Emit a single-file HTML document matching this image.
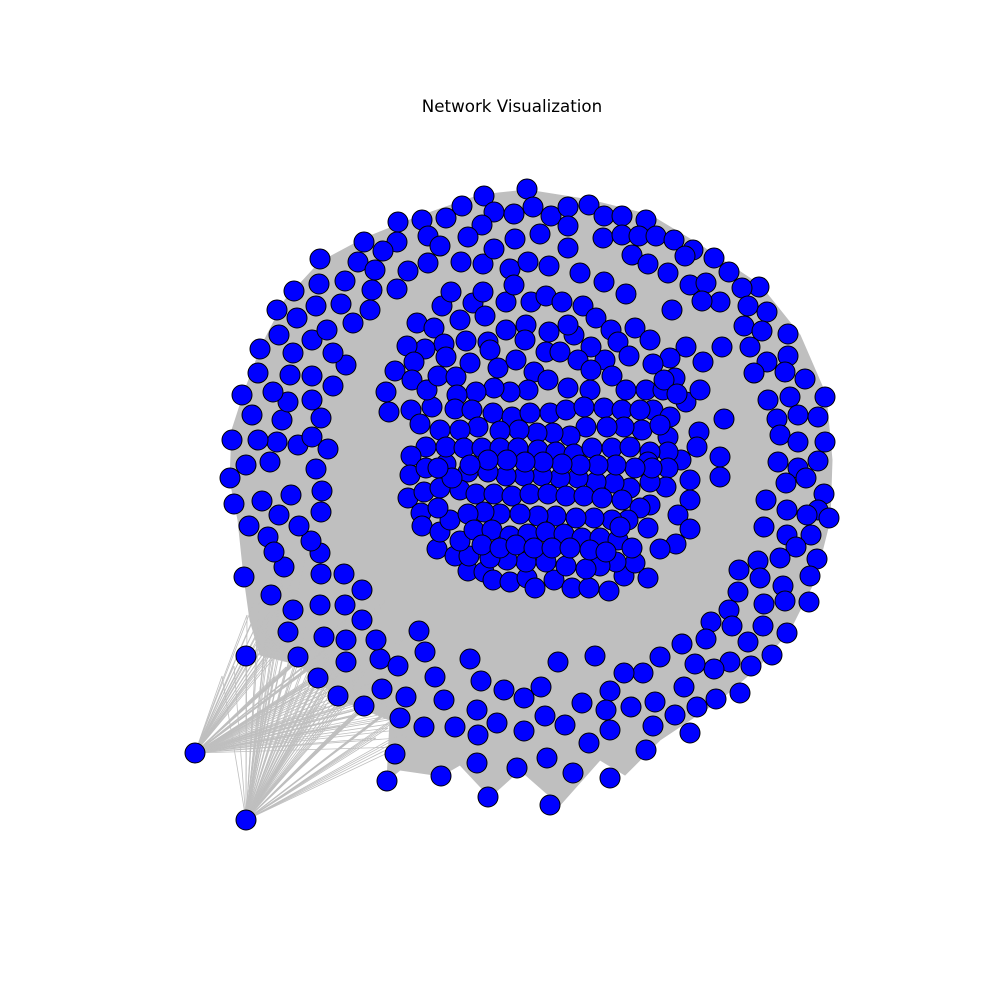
<!DOCTYPE html>
<html><head><meta charset="utf-8"><style>
html,body{margin:0;padding:0;background:#fff;width:1000px;height:1000px;overflow:hidden}
svg{display:block}
</style></head><body>
<svg id="chart" width="1000" height="1000" viewBox="0 0 1000 1000">
<rect width="1000" height="1000" fill="#fff"/>
<text x="512" y="112" text-anchor="middle" font-family="DejaVu Sans, Liberation Sans, sans-serif" font-size="16.7">Network Visualization</text>
<g id="edges"></g>
<g id="nodes"></g>
</svg>
<script>
const edgeHull = [[527,190],[590,200],[650,215],[700,245],[760,285],[800,335],[826,395],[832,460],[830,520],[815,580],[790,630],[760,665],[720,700],[660,740],[625,775],[600,760],[560,805],[520,770],[490,797],[460,765],[441,776],[400,770],[387,781],[390,720],[340,700],[300,665],[260,655],[250,620],[244,577],[238,520],[230,480],[232,430],[245,390],[262,345],[285,300],[320,262],[365,238],[420,216],[480,195]];
const hubs = [[195,753],[246,820]];
const hubTargets = [[246,656],[298,657],[318,678],[338,696],[364,706],[288,632],[324,637],[346,662],[380,659],[382,689],[400,718],[424,727],[406,697],[293,610],[271,595],[346,640],[284,567],[362,620]];
const nodeX = [527,484,462,446,422,398,494,514,533,551,568,589,604,622,646,568,540,515,482,468,428,440,397,383,364,358,375,408,428,461,483,494,510,528,549,568,580,603,622,639,656,674,693,714,729,759,632,648,668,685,690,706,720,702,672,742,748,767,744,762,788,750,767,788,754,785,805,825,790,768,777,798,818,780,798,825,818,798,778,786,806,824,818,829,807,787,766,764,787,811,796,817,780,758,760,739,783,810,785,809,764,738,729,711,732,763,787,748,706,682,772,751,730,714,695,684,660,643,624,610,655,631,606,697,716,740,675,653,610,690,646,589,610,573,547,550,517,488,477,441,387,395,424,400,406,382,364,338,318,298,246,288,293,271,284,244,324,346,346,380,376,398,419,425,435,444,455,470,481,477,478,497,504,524,524,541,545,565,558,582,595,362,362,344,320,345,321,320,311,299,268,274,249,234,262,291,279,321,322,316,230,246,270,277,258,232,252,242,282,298,312,328,321,312,288,273,258,260,279,293,290,312,333,312,327,346,333,341,353,370,372,345,319,316,297,277,294,320,397,
417,434,442,460,451,473,485,483,506,514,531,546,562,583,596,604,626,611,635,650,618,629,605,591,574,568,549,526,506,525,488,466,444,425,407,414,395,412,386,389,411,432,427,438,456,446,470,490,498,516,534,546,560,578,591,612,590,568,548,528,510,494,476,457,455,472,493,512,530,550,566,584,604,622,626,646,663,675,653,670,686,700,703,686,670,653,664,677,722,724,720,720,699,697,681,668,668,650,642,624,607,586,570,553,537,519,500,478,460,440,420,426,411,410,408,421,422,437,455,468,484,493,510,527,535,554,572,589,609,624,648,635,616,600,586,566,546,526,507,490,469,460,440,450,438,424,440,426,446,446,464,482,500,518,538,556,574,592,612,630,648,668,690,690,678,690,676,660,648,650,666,650,630,614,596,578,560,542,524,506,488,468,460,476,494,512,530,548,566,584,602,622,640,628,612,594,576,556,538,520,500,484,468,474,492,510,528,546,564,582,600,618,632,482,500,516,534,552,570,590,606,620,652,635,616,598,580,562,543,525,507,488,470,452,438,660,640,195,246];
const nodeY = [189,196,206,218,220,222,212,214,207,216,207,205,216,216,220,226,234,239,225,237,236,246,242,251,242,262,270,271,263,262,264,249,269,262,266,248,273,238,235,236,236,240,250,258,272,287,255,264,273,256,285,283,302,301,310,288,306,312,326,331,334,347,362,356,373,372,379,397,397,400,419,415,417,435,442,442,461,468,462,483,478,494,510,518,515,510,500,527,535,535,547,559,558,561,578,570,586,576,601,602,604,592,610,622,626,626,633,642,639,644,655,666,662,669,664,687,657,673,673,691,702,707,710,707,699,693,715,726,730,733,750,743,778,773,758,805,768,797,763,776,781,754,727,718,697,689,706,696,678,657,656,632,610,595,567,577,637,640,662,659,640,666,631,652,677,700,727,659,681,710,735,723,690,698,731,687,716,725,662,703,656,620,590,574,605,605,574,553,541,526,537,552,526,504,501,495,515,512,491,469,478,465,462,442,440,440,415,395,420,445,437,449,418,400,402,392,373,349,335,353,375,376,386,340,330,365,353,304,323,310,290,281,284,306,318,310,291,259,289,
323,328,306,320,292,303,316,292,302,285,302,296,302,306,318,282,294,330,328,340,342,356,360,347,335,325,332,325,330,340,342,341,344,349,346,362,371,380,392,412,410,407,390,376,377,357,363,350,368,360,372,352,352,360,370,376,390,388,380,390,392,388,392,395,409,410,413,417,413,413,410,407,408,410,390,390,390,378,410,417,402,390,362,347,358,364,380,394,347,419,457,477,432,447,460,437,452,452,430,427,427,427,436,433,433,430,431,427,430,430,424,447,456,475,498,513,526,549,556,571,572,580,582,578,588,580,588,588,591,576,578,563,562,566,569,566,562,562,560,558,556,541,532,520,508,492,488,468,464,447,448,448,448,448,450,452,454,448,448,447,462,468,480,500,515,529,544,549,528,505,487,482,488,483,482,478,478,476,476,476,472,472,490,494,494,496,494,494,496,496,498,500,508,520,520,518,518,516,516,514,514,512,514,530,530,536,534,532,534,538,538,540,548,545,548,545,548,548,548,550,552,527,468,468,465,465,465,464,462,462,460,460,465,478,468,425,410,753,820];

const NS = 'http://www.w3.org/2000/svg';
const eg = document.getElementById('edges');
const ng = document.getElementById('nodes');

const hull = document.createElementNS(NS, 'polygon');


hull.setAttribute('points', edgeHull.map(p => p.join(',')).join(' '));
hull.setAttribute('fill', '#bfbfbf');
hull.setAttribute('stroke', '#bfbfbf');
eg.appendChild(hull);

hubs.forEach(h => {
  hubTargets.forEach(t => {
    for (let k = -2; k <= 2; k++) {
      const l = document.createElementNS(NS, 'line');
      
      
      l.setAttribute('x1', h[0]); l.setAttribute('y1', h[1]);
      l.setAttribute('x2', t[0] + k * 12); l.setAttribute('y2', t[1] - k * 10);
      l.setAttribute('stroke', '#bfbfbf');
      l.setAttribute('stroke-width', '0.8');
      eg.appendChild(l);
    }
  });
});

for (let i = 0; i < nodeX.length; i++) {
  const c = document.createElementNS(NS, 'circle');
  
  
  c.setAttribute('cx', nodeX[i]);
  c.setAttribute('cy', nodeY[i]);
  c.setAttribute('r', 10);
  c.setAttribute('fill', '#0000ff');
  c.setAttribute('stroke', '#000');
  c.setAttribute('stroke-width', '1');
  ng.appendChild(c);
}
</script>
</body></html>
